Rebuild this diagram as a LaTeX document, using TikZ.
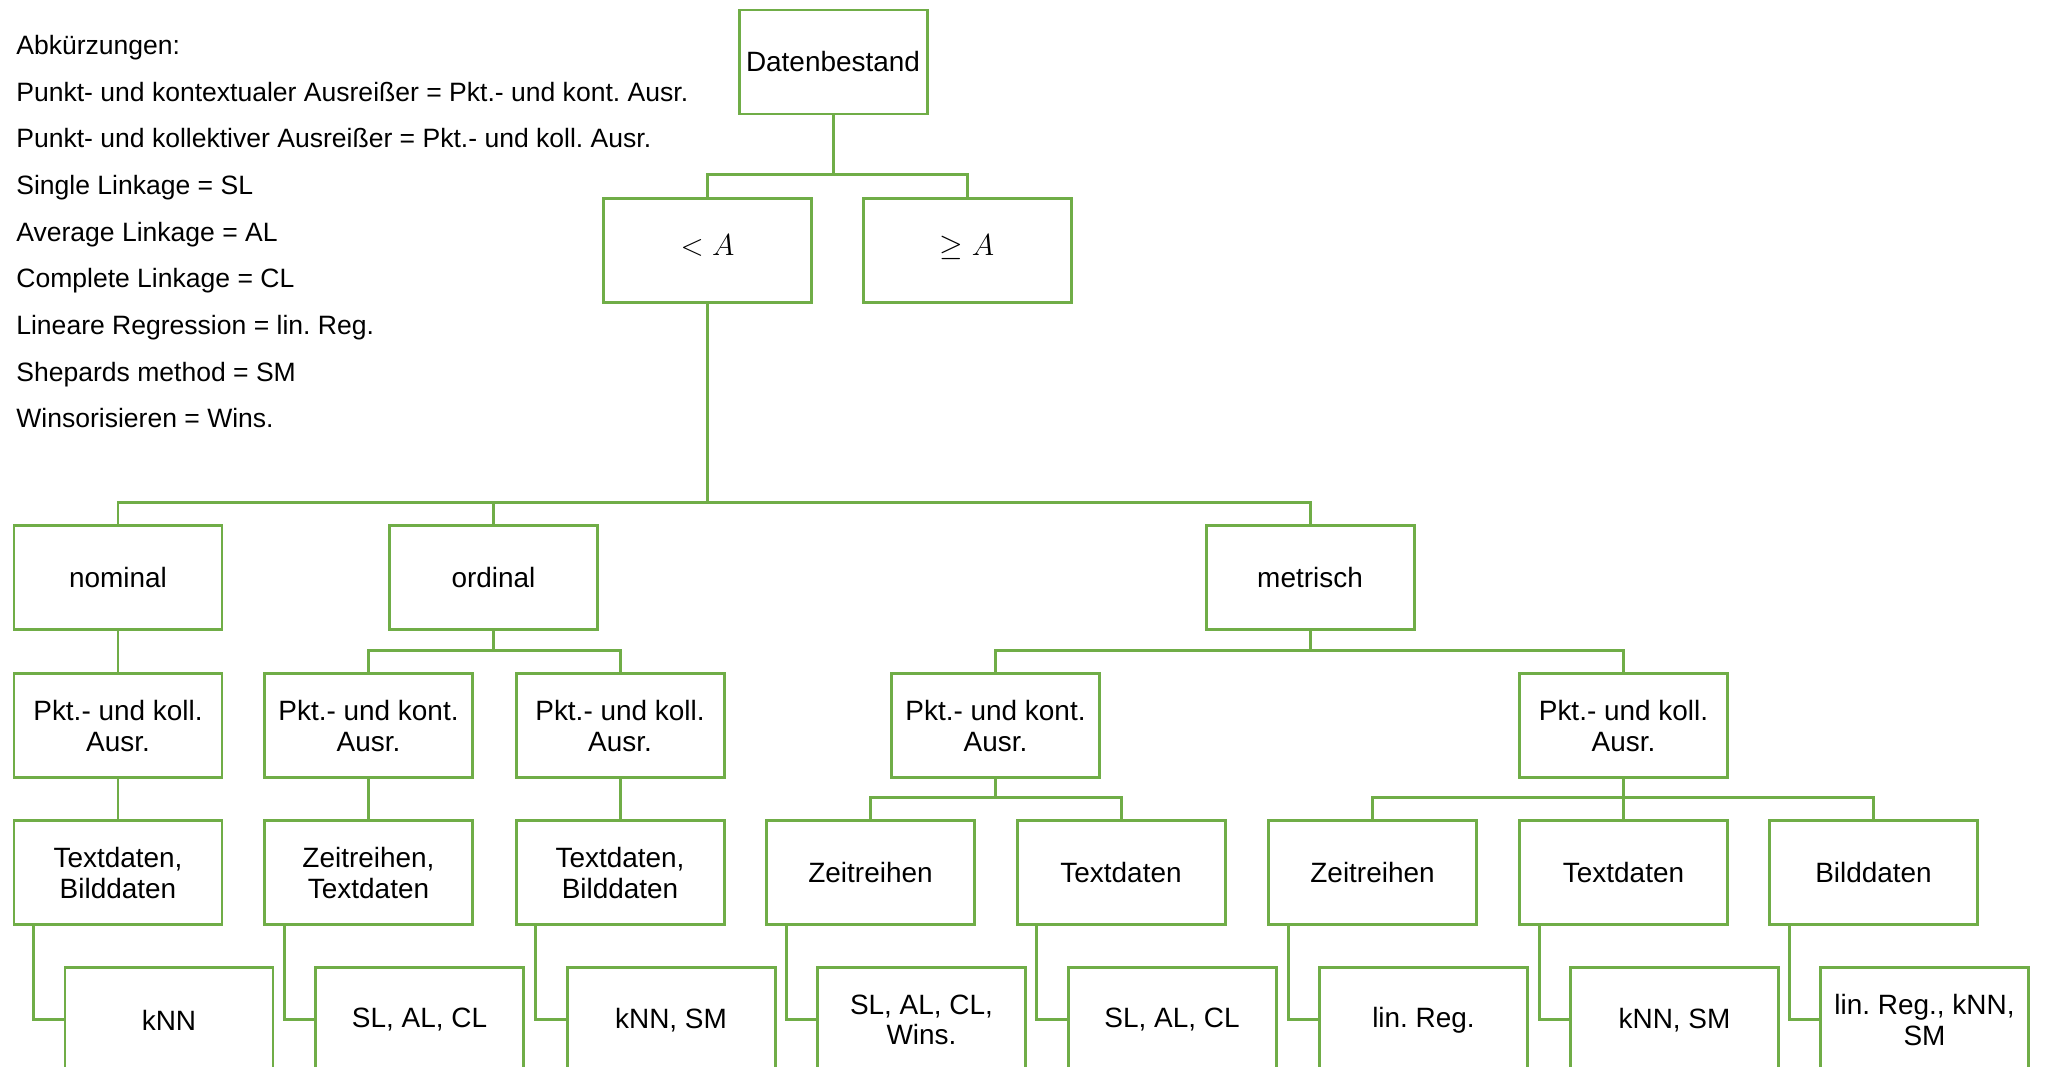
\documentclass[tikz,border=0pt]{standalone}
\usepackage{fontspec}
\setmainfont{Liberation Sans}
\usepackage{amsmath, amssymb}
\usepackage{tikz}
\usetikzlibrary{positioning}
\definecolor{gruen}{HTML}{70AD47}
\frenchspacing

\begin{document}
\begin{tikzpicture}[
  font=\fontsize{15.9}{17.5}\selectfont,
  box/.style={draw=gruen, line width=1.7pt, minimum width=4.16cm, minimum height=2.08cm,
              align=center, inner sep=0.1cm, fill=white},
  rootbox/.style={box, minimum width=3.76cm},
  ast/.style={draw=gruen, line width=1.7pt},
]
\useasboundingbox (0,0) rectangle (40.9,-21.34);

% ── Abkürzungen ──
\node[anchor=north west, inner sep=0pt, align=left,
      font=\fontsize{15.1}{26.55}\selectfont] (abk) at (0.32,-0.70)
  {Abkürzungen:\\
   Punkt- und kontextualer Ausreißer = Pkt.- und kont. Ausr.\\
   Punkt- und kollektiver Ausreißer = Pkt.- und koll. Ausr.\\
   Single Linkage = SL\\
   Average Linkage = AL\\
   Complete Linkage = CL\\
   Lineare Regression = lin. Reg.\\
   Shepards method = SM\\
   Winsorisieren = Wins.};

% ── Datenbestand ──
\node[rootbox] (db) at (16.66,-1.24) {Datenbestand};
\node[box, below=1.63cm of db, xshift=-2.51cm] (lt) {\raisebox{0.2cm}{$<A$}};
\node[box, below=1.63cm of db, xshift=2.68cm]  (ge) {\raisebox{0.2cm}{$\geq A$}};

% ── Skalenniveau ──
\node[box, below=4.41cm of lt, xshift=-11.79cm] (nom) {nominal};
\node[box, below=4.41cm of lt, xshift=-4.28cm]  (ord) {ordinal};
\node[box, below=4.41cm of lt, xshift=12.05cm]  (met) {metrisch};

% ── Ausreißertyp ──
\node[box, below=0.82cm of nom]                 (nomkoll) {Pkt.- und koll.\\Ausr.};
\node[box, below=0.82cm of ord, xshift=-2.5cm]  (ordkont) {Pkt.- und kont.\\Ausr.};
\node[box, below=0.82cm of ord, xshift=2.53cm]  (ordkoll) {Pkt.- und koll.\\Ausr.};
\node[box, below=0.82cm of met, xshift=-6.29cm] (metkont) {Pkt.- und kont.\\Ausr.};
\node[box, below=0.82cm of met, xshift=6.27cm]  (metkoll) {Pkt.- und koll.\\Ausr.};

% ── Datentyp ──
\node[box, below=0.80cm of nomkoll] (nomdat)     {Textdaten,\\Bilddaten};
\node[box, below=0.80cm of ordkont] (ordkontdat) {Zeitreihen,\\Textdaten};
\node[box, below=0.80cm of ordkoll] (ordkolldat) {Textdaten,\\Bilddaten};
\node[box, below=0.80cm of metkont, xshift=-2.5cm]  (metkontzr) {Zeitreihen};
\node[box, below=0.80cm of metkont, xshift=2.51cm]  (metkonttx) {Textdaten};
\node[box, below=0.80cm of metkoll, xshift=-5.02cm] (metkollzr) {Zeitreihen};
\node[box, below=0.80cm of metkoll]                 (metkolltx) {Textdaten};
\node[box, below=0.80cm of metkoll, xshift=5.0cm]   (metkollbd) {Bilddaten};

% ── Verfahren ──
\node[box, below=0.80cm of nomdat, xshift=1.02cm]     (nomverf)     {kNN};
\node[box, below=0.80cm of ordkontdat, xshift=1.02cm] (ordkontverf) {SL, AL, CL};
\node[box, below=0.80cm of ordkolldat, xshift=1.02cm] (ordkollverf) {kNN, SM};
\node[box, below=0.80cm of metkontzr, xshift=1.02cm]  (metkontzrv)  {SL, AL, CL,\\Wins.};
\node[box, below=0.80cm of metkonttx, xshift=1.02cm]  (metkonttxv)  {SL, AL, CL};
\node[box, below=0.80cm of metkollzr, xshift=1.02cm]  (metkollzrv)  {lin. Reg.};
\node[box, below=0.80cm of metkolltx, xshift=1.02cm]  (metkolltxv)  {kNN, SM};
\node[box, below=0.80cm of metkollbd, xshift=1.02cm]  (metkollbdv)  {lin. Reg., kNN,\\SM};

% ── Verbindungen ──
\draw[ast] (db.south) |- ([yshift=0.44cm]lt.north) -- (lt.north);
\draw[ast] (db.south) |- ([yshift=0.44cm]ge.north) -- (ge.north);
\draw[ast] (lt.south) |- ([yshift=0.44cm]nom.north) -- (nom.north);
\draw[ast] (lt.south) |- ([yshift=0.44cm]ord.north) -- (ord.north);
\draw[ast] (lt.south) |- ([yshift=0.44cm]met.north) -- (met.north);
\draw[ast] (nom.south) -- (nomkoll.north);
\draw[ast] (ord.south) |- ([yshift=0.44cm]ordkont.north) -- (ordkont.north);
\draw[ast] (ord.south) |- ([yshift=0.44cm]ordkoll.north) -- (ordkoll.north);
\draw[ast] (met.south) |- ([yshift=0.44cm]metkont.north) -- (metkont.north);
\draw[ast] (met.south) |- ([yshift=0.44cm]metkoll.north) -- (metkoll.north);
\draw[ast] (nomkoll.south) -- (nomdat.north);
\draw[ast] (ordkont.south) -- (ordkontdat.north);
\draw[ast] (ordkoll.south) -- (ordkolldat.north);
\draw[ast] (metkont.south) |- ([yshift=0.44cm]metkontzr.north) -- (metkontzr.north);
\draw[ast] (metkont.south) |- ([yshift=0.44cm]metkonttx.north) -- (metkonttx.north);
\draw[ast] (metkoll.south) |- ([yshift=0.44cm]metkollzr.north) -- (metkollzr.north);
\draw[ast] (metkoll.south) -- (metkolltx.north);
\draw[ast] (metkoll.south) |- ([yshift=0.44cm]metkollbd.north) -- (metkollbd.north);
% Winkel zur letzten Ebene: links aus dem Kasten, dann nach rechts hinein
\draw[ast] ([xshift=0.42cm]nomdat.south west)     |- (nomverf.west);
\draw[ast] ([xshift=0.42cm]ordkontdat.south west) |- (ordkontverf.west);
\draw[ast] ([xshift=0.42cm]ordkolldat.south west) |- (ordkollverf.west);
\draw[ast] ([xshift=0.42cm]metkontzr.south west)  |- (metkontzrv.west);
\draw[ast] ([xshift=0.42cm]metkonttx.south west)  |- (metkonttxv.west);
\draw[ast] ([xshift=0.42cm]metkollzr.south west)  |- (metkollzrv.west);
\draw[ast] ([xshift=0.42cm]metkolltx.south west)  |- (metkolltxv.west);
\draw[ast] ([xshift=0.42cm]metkollbd.south west)  |- (metkollbdv.west);

\end{tikzpicture}
\end{document}
